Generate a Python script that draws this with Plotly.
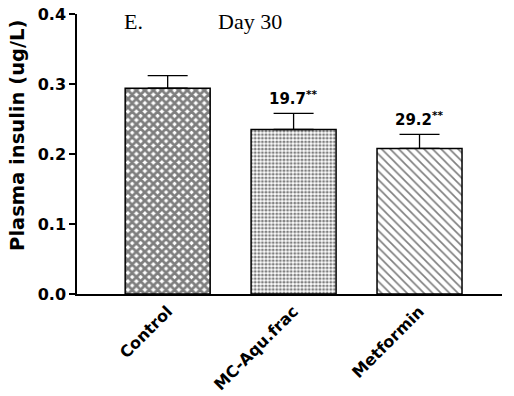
import plotly.graph_objects as go

categories = ["Control", "MC-Aqu.frac", "Metformin"]
values = [0.294, 0.235, 0.208]
errors = [0.018, 0.023, 0.020]
bar_labels = ["", "19.7**", "29.2**"]
y_ticks = [0.0, 0.1, 0.2, 0.3, 0.4]

patterns = [
    dict(shape="x", size=6, solidity=0.72, fgcolor="black", bgcolor="white"),
    dict(shape=".", size=3.6, solidity=0.5, fgcolor="black", bgcolor="white"),
    dict(shape="\\", size=6, solidity=0.28, fgcolor="black", bgcolor="white"),
]

fig = go.Figure()
for i, cat in enumerate(categories):
    fig.add_trace(go.Bar(
        x=[cat], y=[values[i]],
        width=0.675,
        marker=dict(color="white", pattern=patterns[i],
                    line=dict(color="black", width=1.5)),
        error_y=dict(type="data", symmetric=False, array=[errors[i]], arrayminus=[0],
                     color="black", thickness=1.3, width=20),
        showlegend=False,
    ))

for i, lab in enumerate(bar_labels):
    if lab:
        num, stars = lab.split("*", 1)[0], "*" * lab.count("*")
        fig.add_annotation(
            x=categories[i], y=values[i] + errors[i], xref="x", yref="y",
            text=f"<b>{num}</b><sup><b>{stars}</b></sup>", showarrow=False,
            yanchor="bottom", yshift=3,
            font=dict(family="DejaVu Sans", size=15, color="black"),
        )

fig.add_annotation(x=0.106, y=0.975, xref="paper", yref="paper", text="E.",
                   showarrow=False, xanchor="left", yanchor="middle",
                   font=dict(family="Liberation Serif", size=22, color="black"))
fig.add_annotation(x=0.327, y=0.975, xref="paper", yref="paper", text="Day 30",
                   showarrow=False, xanchor="left", yanchor="middle",
                   font=dict(family="Liberation Serif", size=22, color="black"))
fig.add_annotation(x=-0.139, y=0.568, xref="paper", yref="paper",
                   text="<b>Plasma insulin (ug/L)</b>", textangle=-90,
                   showarrow=False, xanchor="center", yanchor="middle",
                   font=dict(family="DejaVu Sans", size=19.5, color="black"))

fig.update_layout(
    width=514, height=396,
    margin=dict(l=77, r=12, t=14, b=102),
    paper_bgcolor="white", plot_bgcolor="white",
    xaxis=dict(
        range=[-0.72, 2.655], showline=True, linecolor="black", linewidth=1.5,
        ticks="", tickangle=-45, showgrid=False, zeroline=False, automargin=False,
        tickvals=categories, ticktext=[f"<b>{c}</b>" for c in categories],
        tickfont=dict(family="DejaVu Sans", size=16, color="black"),
    ),
    yaxis=dict(
        range=[0, 0.4], tickvals=y_ticks, ticktext=[f"<b>{v:.1f}</b>" for v in y_ticks],
        showline=True, linecolor="black", linewidth=1.5,
        ticks="outside", ticklen=6, tickwidth=1.5, tickcolor="black",
        showgrid=False, zeroline=False, automargin=False,
        tickfont=dict(family="DejaVu Sans", size=16, color="black"),
    ),
)

fig.write_html("out.html", config={"displayModeBar": False},
               post_script="document.body.style.margin='0';document.body.style.overflow='hidden';")
